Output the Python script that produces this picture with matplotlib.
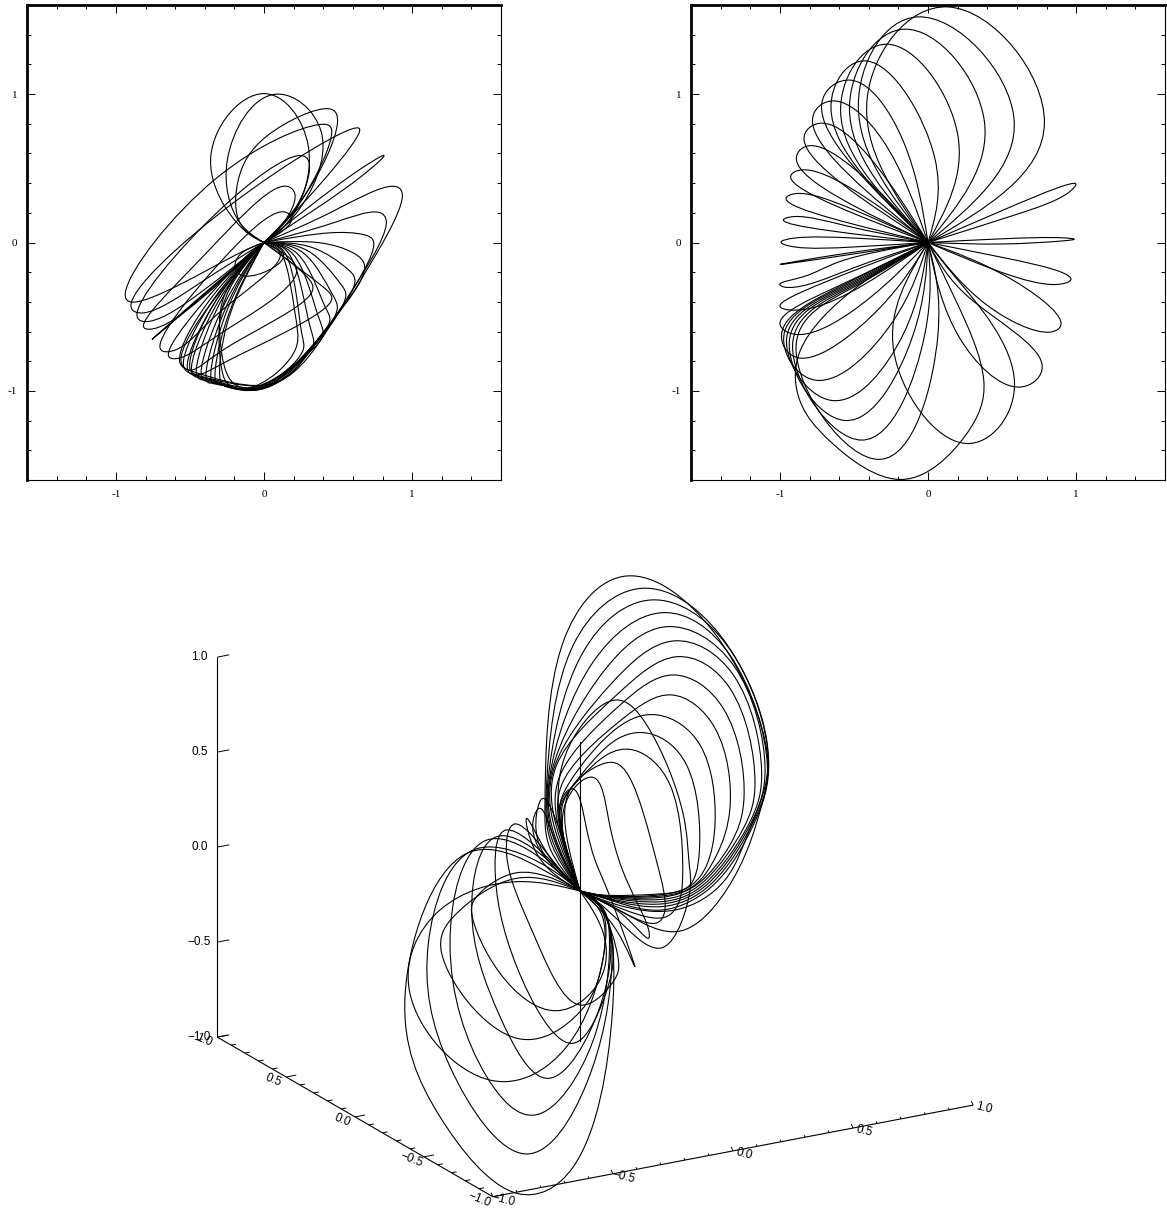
# coding: utf-8
# three panels of closed lobe curves

import numpy as np
import matplotlib
matplotlib.use('Agg')
import matplotlib.pyplot as plt
from matplotlib.path import Path
from matplotlib.patches import PathPatch

# --------------------------------------
# data: every lobe starts and ends at the origin, these are points on its outline

top_left_long = [
    [(-.207,-.092),(-.88,-.402),(-.936,-.339),(-.319,.435),(.377,.795),(.456,.761),(.242,.267)],
    [(-.431,-.272),(-.813,-.474),(-.898,-.429),(-.207,.267),(.635,.772),(.642,.739),(.287,.29)],
    [(-.431,-.339),(-.768,-.53),(-.857,-.496),(-.319,.2),(.242,.586),(.305,.536),(.22,.245)],
    [(-.431,-.384),(-.723,-.575),(-.813,-.568),(-.431,-.114),(.13,.379),(.209,.323),(.13,.132)],
    [(.11,-.09),(-.3,-.47),(-.588,-.72),(-.7,-.716),(-.319,-.159),(.13,.207),(.186,.155),(.108,.065)],
    [(.22,-.2),(-.285,-.608),(-.566,-.777),(-.644,-.765),(-.431,-.429),(-.094,-.07)],
    [(.28,-.22),(.32,-.34),(-.27,-.72),(-.5,-.86),(-.56,-.8),(-.35,-.4)],
    [(.4,-.3),(.45,-.4),(-.25,-.8),(-.45,-.89),(-.5,-.85),(-.33,-.4)],
    [(.6,.46),(.81,.586),(.65,.44)],
    [(-.4,-.34),(-.756,-.653),(-.4,-.35)],
    [(-.16,-.08),(-.195,-.17),(-.117,-.227),(.13,-.103),(.08,-.02)],
]
top_left_round = [
    [(-.139,.088),(-.359,.581),(-.004,1.003),(.299,.649),(.175,.155)],
    [(-.162,.132),(-.247,.559),(.063,.997),(.388,.738),(.22,.2)],
    [(-.162,.132),(-.173,.424),(.018,.716),(.444,.9),(.496,.806),(.287,.334)],
]
top_left_bottom = [
    [(.467,.211),(.871,.379),(.934,.312),(.691,-.19),(.6,-.34),(.467,-.52),(.33,-.70),(.063,-.95),(-.453,-.878),(-.57,-.799),(-.364,-.384)],
    [(.467,.132),(.77,.204),(.826,.132),(.557,-.384),(.30,-.77),(.018,-.96),(-.431,-.9),(-.543,-.833),(-.341,-.384)],
    [(.444,.065),(.669,.054),(.741,-.002),(.512,-.451),(.28,-.77),(-.004,-.979),(-.409,-.911),(-.516,-.855),(-.319,-.384)],
    [(.377,-.002),(.602,-.07),(.68,-.171),(.467,-.519),(.25,-.79),(-.027,-.99),(-.386,-.923),(-.487,-.878),(-.301,-.384)],
    [(.332,-.036),(.568,-.182),(.613,-.272),(.4,-.608),(.22,-.81),(-.049,-.994),(-.364,-.934),(-.453,-.9),(-.285,-.384)],
    [(.299,-.058),(.512,-.272),(.552,-.361),(.355,-.676),(-.061,-.994),(-.341,-.945),(-.42,-.911),(-.274,-.429)],
    [(.265,-.07),(.456,-.339),(.494,-.451),(.31,-.721),(-.072,-.994),(-.319,-.95),(-.386,-.934),(-.263,-.451)],
    [(.231,-.081),(.411,-.429),(.444,-.53),(.265,-.765),(-.083,-.99),(-.296,-.956),(-.352,-.941),(-.256,-.474)],
    [(.198,-.081),(.366,-.496),(.395,-.631),(.22,-.81),(-.094,-.99),(-.274,-.963),(-.323,-.945),(-.251,-.519)],
    [(.164,-.07),(.31,-.563),(.332,-.698),(.175,-.855),(-.105,-.985),(-.263,-.967),(-.296,-.923),(-.247,-.541)],
    [(.141,-.07),(.254,-.608),(.265,-.721),(.13,-.878),(-.117,-.985),(-.24,-.956),(-.285,-.855),(-.278,-.429)],
    [(.108,-.058),(.209,-.474),(.22,-.698),(.085,-.878),(-.117,-.979),(-.229,-.923),(-.292,-.698),(-.269,-.361)],
]

top_right_upper = [
    [(-.41,.976),(.135,1.587),(.786,.808)],
    [(-.47,.93),(-.067,1.52),(.58,.84)],
    [(-.53,.91),(-.157,1.437),(.38,.82)],
    [(-.59,.887),(-.28,1.336),(.2,.73)],
    [(-.655,.91),(-.415,1.223),(.045,.572)],
    [(-.718,.93),(-.516,1.093),(-.168,.685)],
    [(-.78,.82),(-.64,.954),(-.303,.685)],
    [(-.837,.696),(-.718,.804),(-.393,.572)],
    [(-.887,.55),(-.808,.651),(-.483,.483)],
    [(-.927,.438),(-.853,.489),(-.528,.37)],
    [(-.958,.292),(-.887,.33),(-.539,.236)],
    [(-.976,.15),(-.898,.175),(-.55,.112)],
    [(-.5,.03),(-.9,.03),(-.992,.002),(-.9,-.03),(-.5,-.03)],
    [(.5,.025),(.9,.032),(.988,.022),(.9,.01),(.5,-.01)],
    [(.5,.215),(.88,.37),(.998,.395),(.94,.33),(.6,.19)],
]
top_right_lower = [
    [(-.6,-.08),(-1.0,-.148),(-.6,-.092)],
    [(-.6,-.13),(-.84,-.23),(-1.0,-.28),(-.97,-.30),(-.8,-.28),(-.5,-.17)],
    [(-.84,-.328),(-.999,-.43),(-.797,-.444)],
    [(-.62,-.30),(-.999,-.54),(-.875,-.62),(-.393,-.373)],
    [(-.60,-.30),(-.985,-.597),(-.875,-.777),(-.325,-.44)],
    [(-.58,-.30),(-.972,-.62),(-.763,-.927),(-.236,-.53)],
    [(-.56,-.30),(-.954,-.642),(-.651,-1.064),(-.168,-.62)],
    [(-.54,-.30),(-.936,-.664),(-.561,-1.199),(-.10,-.62)],
    [(-.52,-.30),(-.914,-.687),(-.449,-1.331),(-.022,-.62)],
    [(-.50,-.30),(-.891,-.709),(-.325,-1.461),(.067,-.62)],
    [(-.48,-.30),(-.864,-.732),(-.864,-1.068),(-.662,-1.338),(-.168,-1.596),(.258,-1.293),(.377,-.934),(.19,-.395)],
    [(-.231,-.732),(.258,-1.354),(.584,-.956),(.19,-.24)],
    [(.213,-.642),(.617,-.974),(.77,-.822),(.28,-.373)],
    [(.393,-.418),(.819,-.604),(.898,-.541),(.55,-.24)],
    [(.5,-.1),(.91,-.204),(.965,-.25),(.864,-.283),(.505,-.204)],
]

# bottom panel, already in projected plot units
bottom_upper = [
    [(-.158,.225),(-.184,.488),(-.088,1.312),(.246,1.658),(.702,1.365),(.986,.716),(.947,.418),(.832,.111),(.535,-.209),(.237,-.118)],
    [(-.154,.26),(-.175,.575),(-.035,1.295),(.325,1.593),(.737,1.347),(.991,.698),(.895,.33),(.763,.058),(.5,-.1),(.202,-.074)],
    [(-.149,.277),(-.167,.593),(.018,1.26),(.377,1.532),(.772,1.295),(.993,.681),(.912,.347),(.711,.04),(.43,-.1),(.184,-.056)],
    [(-.144,.295),(-.158,.611),(.07,1.207),(.439,1.465),(.789,1.242),(.986,.663),(.921,.382),(.693,.04),(.43,-.082),(.167,-.047)],
    [(-.14,.312),(-.149,.628),(.123,1.154),(.456,1.391),(.807,1.189),(.974,.646),(.904,.365),(.675,.04),(.43,-.068),(.149,-.039)],
    [(-.133,.33),(-.137,.646),(.158,1.084),(.491,1.316),(.807,1.137),(.956,.628),(.895,.365),(.658,.04),(.43,-.056),(.149,-.033)],
    [(-.126,.347),(-.123,.663),(.193,1.032),(.509,1.233),(.789,1.067),(.921,.575),(.86,.33),(.64,.04),(.43,-.044),(.149,-.03)],
    [(-.119,.365),(-.096,.628),(.211,.979),(.491,1.137),(.754,.961),(.863,.488),(.789,.242),(.623,.04),(.43,-.033),(.132,-.026)],
    [(-.114,.382),(-.07,.611),(.228,.909),(.482,1.032),(.711,.856),(.789,.435),(.719,.189),(.605,.032),(.43,-.026),(.132,-.025)],
    [(-.109,.4),(-.053,.575),(.193,.856),(.412,.926),(.632,.768),(.711,.365),(.667,.137),(.588,.032),(.43,-.019),(.132,-.025)],
    [(-.105,.418),(-.035,.558),(.175,.786),(.368,.828),(.561,.663),(.628,.207),(.57,.023),(.412,-.016),(.114,-.021)],
    [(-.096,.435),(0,.593),(.14,.716),(.281,.742),(.474,.558),(.54,.067),(.518,-.065),(.447,-.138),(.237,-.1)],
    [(-.07,.488),(.07,.646),(.202,.667),(.33,.42),(.41,.13),(.447,-.1),(.395,-.17),(.184,-.09)],
    [(-.079,.453),(.07,.598),(.15,.38),(.22,.12),(.30,-.06),(.36,-.2),(.36,-.249),(.237,-.135)],
    [(-.105,.453),(-.035,.537),(.03,.35),(.079,.163),(.158,-.03),(.289,-.398),(.2,-.22)],
    [(-.114,.453),(-.035,.804),(.184,1.005),(.351,.874),(.544,.4),(.575,.137),(.579,.005),(.439,-.296),(.237,-.188),(.079,-.047)],
]
bottom_lower = [
    [(-.193,.111),(-.596,.198),(-.921,-.556),(-.737,-1.188),(-.333,-1.591),(-.035,-1.451),(.17,-.644),(.123,-.1)],
    [(-.175,.128),(-.561,.216),(-.798,-.275),(-.684,-.925),(-.284,-1.384),(.035,-1.012),(.167,-.398),(.123,-.1)],
    [(-.158,.137),(-.491,.268),(-.684,-.275),(-.491,-.977),(-.237,-1.179),(.07,-.784),(.154,-.223),(.114,-.082)],
    [(-.149,.146),(-.439,.286),(-.57,-.1),(-.421,-.661),(-.167,-.986),(.105,-.609),(.158,-.223),(.105,-.082)],
    [(-.14,.146),(-.389,.321),(-.447,.128),(-.333,-.398),(-.044,-.802),(.123,-.574),(.175,-.311),(.105,-.082)],
    [(-.132,.146),(-.342,.353),(-.386,.189),(-.246,-.223),(0,-.6),(.175,-.477),(.202,-.363),(.096,-.065)],
    [(-.333,.049),(-.737,-.1),(-.895,-.539),(-.474,-.995),(-.07,-.819),(.123,-.346),(.114,-.1)],
    [(-.333,.067),(-.649,-.118),(-.728,-.328),(-.333,-.775),(0,-.635),(.105,-.433),(.118,-.135)],
    [(-.333,.096),(-.544,-.03),(-.57,-.118),(-.421,-.433),(-.123,-.63),(.105,-.468),(.123,-.223)],
    [(-.228,.198),(-.281,.382),(-.175,.202)],
    [(-.211,.216),(-.246,.374),(-.21,.435),(-.132,.268)],
    [(-.202,.216),(-.228,.409),(-.193,.488),(-.114,.339)],
]
bottom_line_v = [.784, -.789]

major_ticks = [-1, 0, 1]
minor_ticks = [-1.4, -1.2, -.8, -.6, -.4, -.2, .2, .4, .6, .8, 1.2, 1.4]
box_ticks = [-1.0, -.5, 0.0, .5, 1.0]
box_labels = ['\u22121.0', '\u22120.5', '0.0', '0.5', '1.0']

# --------------------------------------

W, H = 1167, 1209
DEG = 190.0  # pixels per projected unit in the bottom panel

# box axes of the bottom panel, in projected units
box_corner = np.array([-.459, -1.609])
ex = np.array([1.264, .241])
ey = np.array([-.725, .42])
ez = np.array([0.0, 1.0])


def lobe_patch(points):
    # natural cubic spline through the read points, handed to Path as bezier segments
    pts = np.array([(0.0, 0.0)] + list(points) + [(0.0, 0.0)])
    h = np.sqrt(np.hypot(*np.diff(pts, axis=0).T))
    n = len(pts)
    A = np.zeros((n, n))
    b = np.zeros((n, 2))
    A[0, 0] = 2 / h[0]
    A[0, 1] = 1 / h[0]
    b[0] = 3 * (pts[1] - pts[0]) / h[0] ** 2
    A[-1, -1] = 2 / h[-1]
    A[-1, -2] = 1 / h[-1]
    b[-1] = 3 * (pts[-1] - pts[-2]) / h[-1] ** 2
    for i in range(1, n - 1):
        A[i, i - 1] = 1 / h[i - 1]
        A[i, i] = 2 / h[i - 1] + 2 / h[i]
        A[i, i + 1] = 1 / h[i]
        b[i] = 3 * ((pts[i] - pts[i - 1]) / h[i - 1] ** 2 + (pts[i + 1] - pts[i]) / h[i] ** 2)
    d = np.linalg.solve(A, b)
    verts = [pts[0]]
    codes = [Path.MOVETO]
    for i in range(n - 1):
        verts += [pts[i] + d[i] * h[i] / 3, pts[i + 1] - d[i + 1] * h[i] / 3, pts[i + 1]]
        codes += [Path.CURVE4] * 3
    return PathPatch(Path(verts, codes), fill=False, ec='black', lw=0.8)


def draw_lobes(ax, groups):
    for group in groups:
        for lobe in group:
            ax.add_patch(lobe_patch(lobe))


def square_panel(left):
    ax = fig.add_axes([left / W, 1 - 480.0 / H, 474.0 / W, 475.0 / H])
    ax.set_xlim(-1.6, 1.6)
    ax.set_ylim(-1.6, 1.6)
    ax.set_xticks(major_ticks)
    ax.set_yticks(major_ticks)
    ax.set_xticks(minor_ticks, minor=True)
    ax.set_yticks(minor_ticks, minor=True)
    ax.set_xticklabels(['-1', '0', '1'], family='Liberation Serif', fontsize=8)
    ax.set_yticklabels(['-1', '0', '1'], family='Liberation Serif', fontsize=8)
    ax.tick_params(which='major', direction='in', length=5.8, width=0.7, top=True, right=True, pad=7)
    ax.tick_params(which='minor', direction='in', length=2.9, width=0.7, top=True, right=True)
    ax.spines['left'].set_linewidth(2.0)
    ax.spines['top'].set_linewidth(2.0)
    ax.spines['right'].set_linewidth(0.8)
    ax.spines['bottom'].set_linewidth(0.8)
    return ax


def box_point(x, y, z):
    return box_corner + (x + 1) * ex + (y + 1) * ey + (z + 1) * ez


def line_between(ax, a, b, lw=0.8):
    ax.plot([a[0], b[0]], [a[1], b[1]], color='black', lw=lw, solid_capstyle='butt')


def box_text(ax, at, label, offset, rotation):
    ax.annotate(label, xy=at, xytext=offset, textcoords='offset pixels',
                ha='center', va='center', rotation=rotation,
                family='Liberation Sans', fontsize=8.5)


fig = plt.figure(figsize=(W / 100.0, H / 100.0), dpi=100)

ax1 = square_panel(27)
draw_lobes(ax1, [top_left_long, top_left_round, top_left_bottom])

ax2 = square_panel(691)
draw_lobes(ax2, [top_right_upper, top_right_lower])

ax3 = fig.add_axes([0, 0, 1, 1], zorder=-1)
ax3.set_xlim(-580.0 / DEG, (W - 580.0) / DEG)
ax3.set_ylim((891.0 - H) / DEG, 891.0 / DEG)
ax3.axis('off')
draw_lobes(ax3, [bottom_upper, bottom_lower])
ax3.plot([0, 0], bottom_line_v, color='black', lw=0.8)

# axes of the box
line_between(ax3, box_point(-1, -1, -1), box_point(1, -1, -1))
line_between(ax3, box_point(-1, -1, -1), box_point(-1, 1, -1))
line_between(ax3, box_point(-1, 1, -1), box_point(-1, 1, 1))

minor_steps = [.1, .2, .3, .4]
x_tick = np.array([-.009, .021])
y_tick = ex * .042
z_tick = np.array([.063, .012])
for t, lab in zip(box_ticks, box_labels):
    p = box_point(t, -1, -1)
    line_between(ax3, p, p + x_tick, lw=0.7)
    box_text(ax3, p, lab, (11, -3), -14)
    p = box_point(-1, t, -1)
    line_between(ax3, p, p + y_tick, lw=0.7)
    box_text(ax3, p, lab, (-13, -3), -22)
    p = box_point(-1, 1, t)
    line_between(ax3, p, p + z_tick, lw=0.7)
    box_text(ax3, p, lab, (-18, 0), 0)
    if t < 1:
        for s in minor_steps:
            p = box_point(t + s, -1, -1)
            line_between(ax3, p, p + x_tick * .5, lw=0.7)
            p = box_point(-1, t + s, -1)
            line_between(ax3, p, p + y_tick * .5, lw=0.7)

fig.savefig('out.png', dpi=100)
